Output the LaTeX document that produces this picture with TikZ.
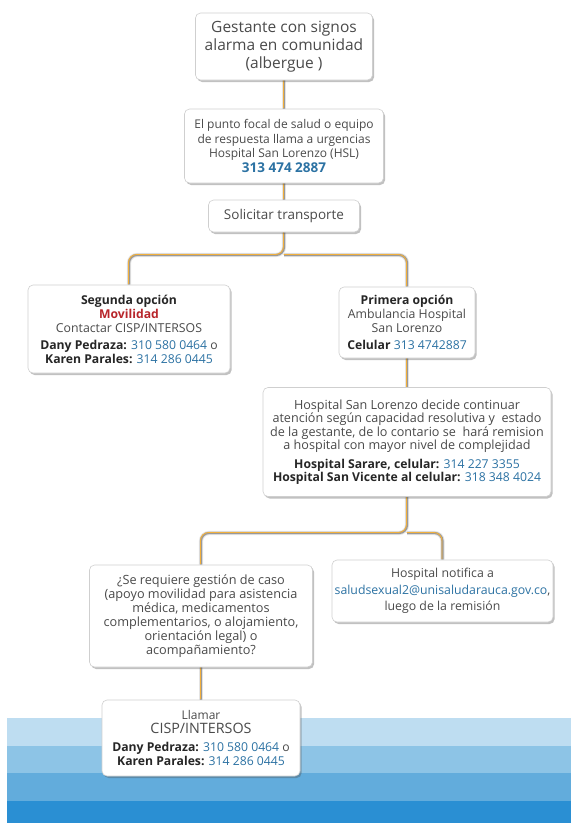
\documentclass[tikz,border=0pt]{standalone}
\usepackage{fontspec}
\setmainfont{Open Sans}
\usetikzlibrary{shadows,backgrounds}
\definecolor{txt}{HTML}{4A4A4A}
\definecolor{dark}{HTML}{262626}
\definecolor{phone}{HTML}{2C72A3}
\definecolor{redt}{HTML}{B8262B}
\definecolor{bordc}{HTML}{CFCFCF}
\definecolor{tubeg}{HTML}{999999}
\definecolor{tubeo}{HTML}{F2B03C}
\definecolor{tubel}{HTML}{E4E4E4}
\definecolor{bandA}{HTML}{BEDDF1}
\definecolor{bandB}{HTML}{8DC4E6}
\definecolor{bandC}{HTML}{62ACDC}
\definecolor{bandD}{HTML}{2A8FD3}
\newcommand\tube[1]{%
  \draw[tubel,line width=4.2pt,rounded corners=8pt] #1;
  \draw[tubeg,line width=2.2pt,rounded corners=8pt] #1;
  \draw[tubeo,line width=0.9pt,rounded corners=8pt,transform canvas={xshift=-0.5pt,yshift=0.5pt}] #1;}
\newcommand\ph[1]{\textcolor{phone}{#1}}
\newcommand\bk[1]{\textcolor{dark}{\bfseries #1}}
\newcommand\bsz{\fontsize{12.2}{14}\selectfont}
\begin{document}
\begin{tikzpicture}[x=1pt,y=-1pt,
  box/.style={draw=bordc,line width=0.6pt,fill=white,rounded corners=5pt,
    drop shadow={shadow xshift=1.6pt,shadow yshift=-2pt,opacity=0.35,fill=black!70},
    align=center,inner sep=2pt,text=txt,font=\fontsize{12}{14.5}\selectfont}]
\useasboundingbox (0,0) rectangle (571,823);

\node[box,minimum width=177pt,minimum height=67pt,font=\fontsize{15.5}{18}\selectfont] (top) at (284,46.5)
  {Gestante con signos\\alarma en comunidad\\(albergue )};
\node[box,minimum width=199pt,minimum height=74pt] (focal) at (284,146)
  {El punto focal de salud o equipo\\de respuesta llama a urgencias\\Hospital San Lorenzo (HSL)\\{\fontsize{13.5}{15}\selectfont\bfseries\ph{313 474 2887}}};
\node[box,minimum width=151pt,minimum height=32pt,font=\fontsize{13.5}{16}\selectfont] (sol) at (284,216)
  {Solicitar transporte};
\node[box,minimum width=202pt,minimum height=88pt,font=\fontsize{12.3}{14}\selectfont] (seg) at (129,329)
  {{\bsz\bk{Segunda opción}}\\{\bsz\bfseries\textcolor{redt}{Movilidad}}\\Contactar CISP/INTERSOS\\[3pt]
   {\bsz\bk{Dany Pedraza:} \ph{310 580 0464} o}\\{\bsz\bk{Karen Parales:} \ph{314 286 0445}}};
\node[box,minimum width=136pt,minimum height=71pt,font=\fontsize{12.3}{14}\selectfont] (pri) at (407,322.5)
  {{\bsz\bk{Primera opción}}\\Ambulancia Hospital\\San Lorenzo\\[3pt]{\bsz\bk{Celular} \ph{313 4742887}}};
\node[box,minimum width=288pt,minimum height=109pt,font=\fontsize{12.6}{13.5}\selectfont] (hsl) at (407,442)
  {Hospital San Lorenzo decide continuar\\atención según capacidad resolutiva y~ estado\\de la gestante, de lo contario se~ hará remision\\a hospital con mayor nivel de complejidad\\[5pt]
   {\bsz\bk{Hospital Sarare, celular:} \ph{314 227 3355}}\\{\bsz\bk{Hospital San Vicente al celular:} \ph{318 348 4024}}};
\node[box,minimum width=223pt,minimum height=102pt,font=\fontsize{12.7}{14}\selectfont] (se) at (201,616)
  {¿Se requiere gestión de caso\\(apoyo movilidad para asistencia\\médica, medicamentos\\complementarios, o alojamiento,\\orientación legal) o\\acompañamiento?};
\node[box,minimum width=221pt,minimum height=62pt,font=\fontsize{12.3}{16.5}\selectfont] (hn) at (442.5,591)
  {Hospital notifica a\\\ph{saludsexual2@unisaludarauca.gov.co},\\luego de la remisión};
\node[box,minimum width=198pt,minimum height=76pt,font=\fontsize{12}{14}\selectfont] (ll) at (201,738)
  {Llamar\\{\fontsize{14.3}{15}\selectfont CISP/INTERSOS}\\[4pt]
   {\bsz\bk{Dany Pedraza:} \ph{310 580 0464} o}\\{\bsz\bk{Karen Parales:} \ph{314 286 0445}}};

\coordinate (j1) at (284,255);
\coordinate (j2) at (407,533);

\begin{scope}[on background layer]
  \fill[bandA] (7,718) rectangle (571,746);
  \fill[bandB] (7,746) rectangle (571,773);
  \fill[bandC] (7,773) rectangle (571,801);
  \fill[bandD] (7,801) rectangle (571,823);
  \tube{(top.south) -- (focal.north)}
  \tube{(focal.south) -- (sol.north)}
  \tube{(sol.south) -- (j1) -| (seg.north)}
  \tube{(j1) -| (pri.north)}
  \tube{(pri.south) -- (hsl.north)}
  \tube{(hsl.south) -- (j2) -| (se.north)}
  \tube{(j2) -| (hn.north)}
  \tube{(se.south) -- (ll.north)}
\end{scope}
\end{tikzpicture}
\end{document}
